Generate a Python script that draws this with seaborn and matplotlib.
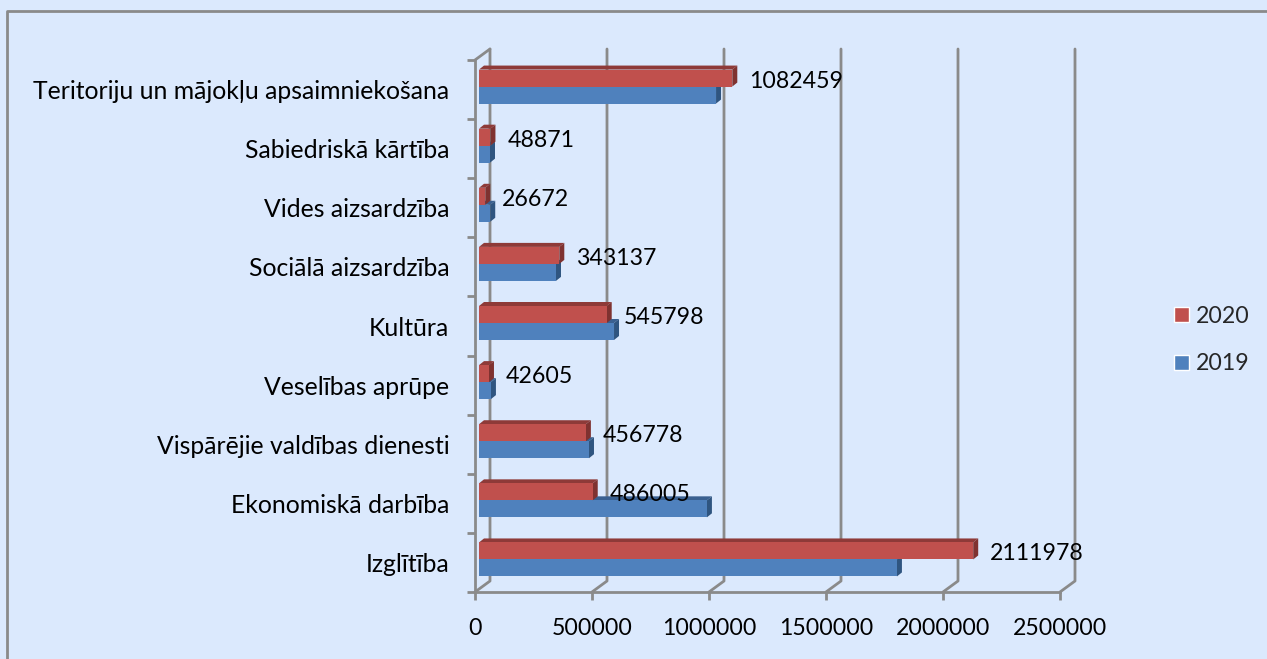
import pandas as pd
import numpy as np
import matplotlib
matplotlib.use("Agg")
import matplotlib.pyplot as plt
import seaborn as sns
from matplotlib.patches import Polygon
from matplotlib.lines import Line2D
from matplotlib.transforms import Affine2D, IdentityTransform

categories = [
    "Teritoriju un mājokļu apsaimniekošana",
    "Sabiedriskā kārtība",
    "Vides aizsardzība",
    "Sociālā aizsardzība",
    "Kultūra",
    "Veselības aprūpe",
    "Vispārējie valdības dienesti",
    "Ekonomiskā darbība",
    "Izglītība",
]
values_2020 = [1082459, 48871, 26672, 343137, 545798, 42605, 456778, 486005, 2111978]
values_2019 = [1013000, 47000, 48000, 329000, 577000, 51000, 470000, 974000, 1786000]
xticks = [0, 500000, 1000000, 1500000, 2000000, 2500000]

W, H = 1267, 659
BG = "#DBE9FD"
GREY = "#8A8A8A"
RED, RED_TOP, RED_SIDE = "#C0504D", "#8E3A38", "#7F3230"
BLUE, BLUE_TOP, BLUE_SIDE = "#4F81BD", "#3A6090", "#2F5580"
LW = 2

sns.set_theme(style="white")
plt.rcParams["font.family"] = ["Lato", "DejaVu Sans"]
FS_CAT = 17.8
FS = 16.7

df = pd.DataFrame({
    "category": categories * 2,
    "value": values_2020 + values_2019,
    "year": ["2020"] * len(categories) + ["2019"] * len(categories),
})

fig = plt.figure(figsize=(W / 100, H / 100), dpi=100, facecolor=BG)
# front plane of the chart, in pixels
left, right, top, bottom = 475, 1060, 60, 592
ax = fig.add_axes([left / W, 1 - bottom / H, (right - left) / W, (bottom - top) / H])
ax.patch.set_alpha(0)

sns.barplot(data=df, x="value", y="category", hue="year", hue_order=["2020", "2019"],
            order=categories, palette={"2020": RED, "2019": BLUE}, orient="h",
            width=0.575, gap=0, saturation=1, ax=ax)
ax.set_xlim(0, 2500000)
ax.set_ylim(len(categories) - 0.5, -0.5)
ax.set_xticks(xticks)
ax.set_xticklabels([str(t) for t in xticks])
ax.set_xlabel("")
ax.set_ylabel("")
ax.tick_params(axis="x", length=6, width=LW, color=GREY, pad=13, labelsize=FS, labelcolor="black", bottom=True)
ax.tick_params(axis="y", which="major", length=0, pad=18.5, labelsize=FS_CAT, labelcolor="black")
ax.set_yticks(np.arange(len(categories) + 1) - 0.5, minor=True)
ax.tick_params(axis="y", which="minor", length=6, width=LW, color=GREY, left=True)
for s in ["top", "right"]:
    ax.spines[s].set_visible(False)
for s in ["left", "bottom"]:
    ax.spines[s].set_color(GREY)
    ax.spines[s].set_linewidth(LW)

sns.move_legend(ax, loc="center left", bbox_to_anchor=(1153 / W, 1 - 340 / H),
                bbox_transform=fig.transFigure, frameon=False, title=None,
                fontsize=FS, handlelength=0.65, handleheight=0.65,
                labelspacing=1.16, handletextpad=0.3)

fig.canvas.draw()

# back wall: grid lines pushed back and joined to the floor ticks
wall = (15, 11)
px = IdentityTransform()
for t in xticks:
    x0, y0 = ax.transData.transform((t, len(categories) - 0.5))
    _, y1 = ax.transData.transform((t, -0.5))
    fig.add_artist(Line2D([x0, x0 + wall[0], x0 + wall[0]], [y0, y0 + wall[1], y1 + wall[1]],
                          transform=px, color=GREY, lw=LW, zorder=1))
x0, y1 = ax.transData.transform((0, -0.5))
fig.add_artist(Line2D([x0, x0 + wall[0]], [y1, y1 + wall[1]], transform=px, color=GREY, lw=LW, zorder=1))

# bars sit a little inside the floor, then get a top and a side face
shift = (4, 3)
depth = (5, 4)
ax.set_zorder(2)
for container, zo, top_c, side_c in zip(ax.containers, (5, 4), (RED_TOP, BLUE_TOP), (RED_SIDE, BLUE_SIDE)):
    for bar in container:
        bx0, by0 = ax.transData.transform((bar.get_x(), bar.get_y() + bar.get_height()))
        bx1, by1 = ax.transData.transform((bar.get_x() + bar.get_width(), bar.get_y()))
        bx0, bx1, by0, by1 = bx0 + shift[0], bx1 + shift[0], by0 + shift[1], by1 + shift[1]
        bar.set_transform(ax.transData + Affine2D().translate(*shift))
        bar.set_zorder(zo + 0.2)
        bar.set_edgecolor("none")
        bar.set_linewidth(0)
        bar.set_clip_on(False)
        ax.add_patch(Polygon([(bx0, by1), (bx0 + depth[0], by1 + depth[1]), (bx1 + depth[0], by1 + depth[1]), (bx1, by1)],
                             closed=True, transform=px, facecolor=top_c, edgecolor="none", zorder=zo, clip_on=False))
        ax.add_patch(Polygon([(bx1, by1), (bx1 + depth[0], by1 + depth[1]), (bx1 + depth[0], by0 + depth[1]), (bx1, by0)],
                             closed=True, transform=px, facecolor=side_c, edgecolor="none", zorder=zo, clip_on=False))

# value labels only on the 2020 series
ax.bar_label(ax.containers[0], labels=[str(v) for v in values_2020], padding=15, fontsize=FS, color="black", zorder=8)

# outer frame, open to the right and bottom edges
fig.add_artist(Line2D([6.5 / W, 6.5 / W, 1], [0, 1 - 10.5 / H, 1 - 10.5 / H],
                      color=GREY, lw=LW, transform=fig.transFigure))

fig.savefig("out.png", dpi=100, facecolor=BG)
